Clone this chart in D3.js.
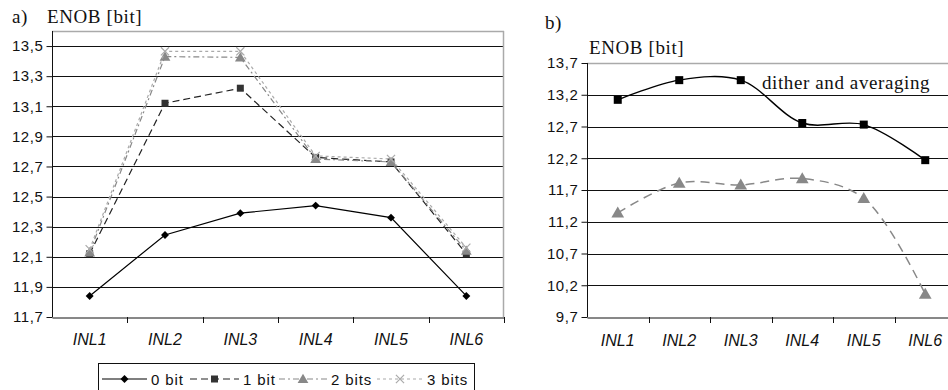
<!DOCTYPE html>
<html>
<head>
<script src="https://d3js.org/d3.v7.min.js"></script>
<style>
  body { margin: 0; background: #fff; }
  text { font-family: "Liberation Sans", Arial, sans-serif; }
  .serif { font-family: "Liberation Serif", "Times New Roman", serif; }
</style>
</head>
<body>
<script>
const categories = ["INL1", "INL2", "INL3", "INL4", "INL5", "INL6"];

// chart a)
const bit0 = [11.84, 12.245, 12.39, 12.44, 12.36, 11.84];
const bit1 = [12.12, 13.12, 13.22, 12.76, 12.73, 12.12];
const bit2 = [12.13, 13.43, 13.425, 12.75, 12.73, 12.14];
const bit3 = [12.15, 13.465, 13.465, 12.77, 12.75, 12.16];
const ticksA = [11.7, 11.9, 12.1, 12.3, 12.5, 12.7, 12.9, 13.1, 13.3, 13.5];

// chart b)
const ditherAvg = [13.12, 13.43, 13.43, 12.755, 12.73, 12.17];
const plain = [11.34, 11.81, 11.78, 11.88, 11.57, 10.06];
const ticksB = [9.7, 10.2, 10.7, 11.2, 11.7, 12.2, 12.7, 13.2, 13.7];

const fmt = v => d3.format(".1f")(v).replace(".", ",");

const svg = d3.select("body").append("svg")
  .attr("width", 948).attr("height", 390);

function marker(g, type, x, y, color) {
  if (type === "diamond") {
    g.append("path").attr("d", d3.symbol(d3.symbolDiamond2, 40)())
      .attr("transform", `translate(${x},${y})`).attr("fill", color);
  } else if (type === "square") {
    g.append("rect").attr("x", x - 4).attr("y", y - 4).attr("width", 8).attr("height", 8).attr("fill", color);
  } else if (type === "smallsquare") {
    g.append("rect").attr("x", x - 3.5).attr("y", y - 3.5).attr("width", 7).attr("height", 7).attr("fill", color);
  } else if (type === "triangle") {
    g.append("path").attr("d", d3.symbol(d3.symbolTriangle, 50)())
      .attr("transform", `translate(${x},${y + 1})`).attr("fill", color);
  } else if (type === "bigtriangle") {
    g.append("path").attr("d", d3.symbol(d3.symbolTriangle, 70)())
      .attr("transform", `translate(${x},${y + 1})`).attr("fill", color);
  } else if (type === "cross") {
    g.append("path").attr("d", d3.symbol(d3.symbolX, 45)())
      .attr("transform", `translate(${x},${y})`).attr("fill", "none")
      .attr("stroke", color).attr("stroke-width", 1.2);
  }
}

function drawPanel(opt) {
  const g = svg.append("g");
  const x = d3.scaleBand().domain(categories).range([opt.left, opt.right]);
  const y = d3.scaleLinear().domain(opt.domain).range([opt.bottom, opt.top]);

  // gridlines
  g.selectAll(".grid").data(opt.ticks.filter(t => t > opt.domain[0] && t < opt.domain[1]))
    .join("line")
    .attr("x1", opt.left).attr("x2", opt.right)
    .attr("y1", d => Math.round(y(d)) + 0.5).attr("y2", d => Math.round(y(d)) + 0.5)
    .attr("stroke", "#111");

  // frame top/right
  g.append("line").attr("x1", opt.left).attr("x2", opt.right)
    .attr("y1", opt.top + 0.5).attr("y2", opt.top + 0.5).attr("stroke", "#aaa").attr("stroke-width", 1.5);
  g.append("line").attr("x1", opt.right - 0.5).attr("x2", opt.right - 0.5)
    .attr("y1", opt.top).attr("y2", opt.bottom).attr("stroke", "#aaa").attr("stroke-width", 1.5);

  // y axis
  const ya = g.append("g").attr("transform", `translate(${opt.left + 0.5},0)`)
    .call(d3.axisLeft(y).tickValues(opt.ticks).tickFormat(fmt).tickSize(6).tickPadding(3));
  ya.select(".domain").attr("stroke", "#111").attr("d", `M0,${opt.top}V${opt.bottom}`);
  ya.selectAll(".tick line").attr("stroke", "#111");
  ya.selectAll(".tick text").attr("font-size", 15).attr("fill", "#111")
    .attr("letter-spacing", 0.6)
    .attr("font-family", "Liberation Sans, Arial, sans-serif");

  // x axis
  const xa = g.append("g").attr("transform", `translate(0,${Math.round(opt.bottom) + 0.5})`)
    .call(d3.axisBottom(x).tickSize(0).tickPadding(opt.labelPad));
  xa.select(".domain").attr("stroke", "#111");
  xa.selectAll(".tick text").attr("font-size", 16).attr("font-style", "italic").attr("fill", "#111")
    .attr("font-family", "Liberation Sans, Arial, sans-serif");
  g.selectAll(".xt").data(categories.slice(1).concat(["_end"]))
    .join("line")
    .attr("x1", (d, i) => Math.round(opt.left + (i + 1) * x.bandwidth()) + 0.5)
    .attr("x2", (d, i) => Math.round(opt.left + (i + 1) * x.bandwidth()) + 0.5)
    .attr("y1", opt.bottom).attr("y2", opt.bottom + 6).attr("stroke", "#111");

  const cx = c => x(c) + x.bandwidth() / 2;
  opt.series.forEach(s => {
    const line = d3.line().x((d, i) => cx(categories[i])).y(d => y(d))
      .curve(s.smooth ? d3.curveCatmullRom.alpha(0.5) : d3.curveLinear);
    g.append("path").datum(s.values).attr("d", line)
      .attr("fill", "none").attr("stroke", s.color).attr("stroke-width", s.width || 1.2)
      .attr("stroke-dasharray", s.dash || null);
    s.values.forEach((v, i) => marker(g, s.marker, cx(categories[i]), y(v), s.mcolor || s.color));
  });
  return g;
}

const seriesA = [
  { name: "0 bit", values: bit0, color: "#000", marker: "diamond" },
  { name: "1 bit", values: bit1, color: "#222", marker: "smallsquare", dash: "7,4", mcolor: "#333" },
  { name: "2 bits", values: bit2, color: "#888", marker: "triangle", dash: "6,3,2,3" },
  { name: "3 bits", values: bit3, color: "#aaa", marker: "cross", dash: "3,3" }
];

drawPanel({
  left: 52, right: 504, top: 31, bottom: 317, domain: [11.7, 13.6], ticks: ticksA,
  labelPad: 16, series: seriesA
});

drawPanel({
  left: 587, right: 956, top: 63, bottom: 317, domain: [9.7, 13.7], ticks: ticksB,
  labelPad: 17,
  series: [
    { values: ditherAvg, color: "#000", marker: "square", smooth: true, width: 1.4 },
    { values: plain, color: "#888", marker: "bigtriangle", smooth: true, dash: "9,6", width: 1.5 }
  ]
});

// titles
const title = (x, y, t) => svg.append("text").attr("class", "serif").attr("x", x).attr("y", y)
  .attr("font-size", 19).attr("letter-spacing", 0.6).attr("fill", "#111").text(t);
title(12, 23, "a)");
title(47, 23, "ENOB [bit]");
title(545, 29, "b)");
title(589, 54, "ENOB [bit]");
title(762, 89, "dither and averaging");

// legend for a)
const lg = svg.append("g");
lg.append("rect").attr("x", 98.5).attr("y", 363.5).attr("width", 376).attr("height", 30)
  .attr("fill", "#fff").attr("stroke", "#111");
const legX = [[102, 147, 151], [190, 239, 243], [279, 327, 331], [377, 423, 427]];
seriesA.forEach((s, i) => {
  const [x1, x2, tx] = legX[i];
  lg.append("line").attr("x1", x1).attr("x2", x2).attr("y1", 379).attr("y2", 379)
    .attr("stroke", s.color).attr("stroke-width", 1.2).attr("stroke-dasharray", s.dash || null);
  marker(lg, s.marker, (x1 + x2) / 2, 379, s.mcolor || s.color);
  lg.append("text").attr("x", tx).attr("y", 384.5).attr("font-size", 15).attr("letter-spacing", 0.9)
    .attr("fill", "#111").text(s.name);
});
</script>
</body>
</html>
